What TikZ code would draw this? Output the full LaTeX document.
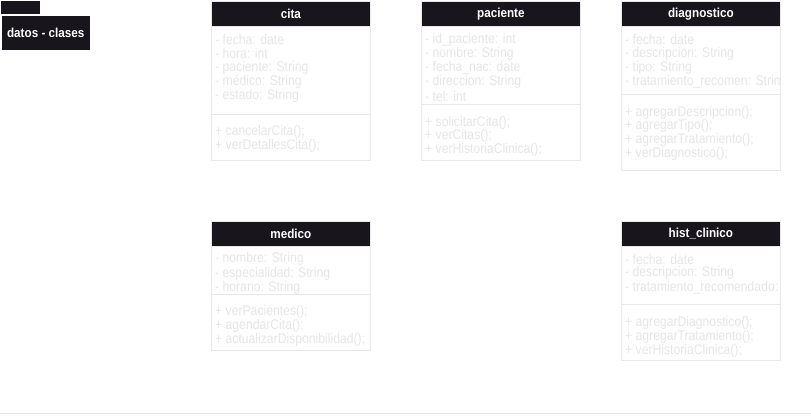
\documentclass[tikz,border=0pt]{standalone}
\usepackage{fontspec}
\setmainfont{Liberation Sans}
\newfontfamily\narrowfont[FakeStretch=0.9]{Liberation Sans}
\newfontfamily\membfont[FakeStretch=0.87]{Liberation Sans}
\definecolor{hdr}{HTML}{18151D}
\definecolor{txt}{HTML}{E6E6E6}
\definecolor{brd}{HTML}{E8E8E8}
\tikzset{
  hdrbox/.style={draw=brd, fill=hdr, line width=0.8pt, minimum width=159pt, minimum height=25pt, inner sep=0pt, anchor=north west, text=white, font=\narrowfont\fontsize{13}{15}\selectfont\bfseries},
  bodybox/.style={draw=brd, line width=0.8pt, minimum width=159pt, inner sep=0pt, anchor=north west},
  divline/.style={draw=brd, line width=0.8pt},
  member/.style={anchor=west, inner sep=0pt, text=txt, font=\membfont\fontsize{14}{16}\selectfont},
}
\begin{document}
\begin{tikzpicture}[x=1pt,y=-1pt]
\useasboundingbox (0,0) rectangle (811,419);
\fill[white] (0,0) rectangle (811,419);
% title tab
\node[fill=hdr, minimum width=39pt, minimum height=13pt, inner sep=0pt, anchor=north west] (tab) at (1,1) {};
\node[fill=hdr, draw=white, line width=0.5pt, minimum width=89pt, minimum height=35pt, inner sep=0pt, anchor=north west, text=white, font=\narrowfont\fontsize{13}{15}\selectfont\bfseries] (title) at (1,15) {datos - clases};
% cita
\node[bodybox, minimum height=159pt] (citabody) at (211,1) {};
\node[hdrbox] (cita) at (211,1) {cita};
\draw[divline] (211,114) -- (370,114);
\node[member] (c1) at (215,40) {- fecha: date};
\node[member] (c2) at (215,54) {- hora: int};
\node[member] (c3) at (215,68) {- paciente: String};
\node[member] (c4) at (215,82) {- médico: String};
\node[member] (c5) at (215,96) {- estado: String};
\node[member] (c6) at (215,132) {+ cancelarCita();};
\node[member] (c7) at (215,146) {+ verDetallesCita();};
% paciente
\node[bodybox, minimum height=159pt] (pacbody) at (421,1) {};
\node[hdrbox] (pac) at (421,1) {paciente};
\draw[divline] (421,104) -- (580,104);
\node[member] (p1) at (425,40) {- id\_paciente: int};
\node[member] (p2) at (425,54) {- nombre: String};
\node[member] (p3) at (425,68) {- fecha\_nac: date};
\node[member] (p4) at (425,82) {- direccion: String};
\node[member] (p5) at (425,96) {- tel: int};
\node[member] (p6) at (425,123) {+ solicitarCita();};
\node[member] (p7) at (425,136) {+ verCitas();};
\node[member] (p8) at (425,150) {+ verHistoriaClinica();};
% diagnostico
\node[bodybox, minimum height=169pt] (diabody) at (621,1) {};
\node[hdrbox] (dia) at (621,1) {diagnostico};
\draw[divline] (621,94) -- (780,94);
\node[member] (d1) at (625,40) {- fecha: date};
\node[member] (d2) at (625,54) {- descripcion: String};
\node[member] (d3) at (625,68) {- tipo: String};
\begin{scope}
\clip (621,27) rectangle (779.4,93);
\node[member] (d4) at (625,82) {- tratamiento\_recomen: Strin};
\end{scope}
\node[member] (d5) at (625,113) {+ agregarDescripcion();};
\node[member] (d6) at (625,126) {+ agregarTipo();};
\node[member] (d7) at (625,140) {+ agregarTratamiento();};
\node[member] (d8) at (625,154) {+ verDiagnostico();};
% medico
\node[bodybox, minimum height=129pt] (medbody) at (211,221) {};
\node[hdrbox] (med) at (211,221) {medico};
\draw[divline] (211,294) -- (370,294);
\node[member] (m1) at (215,259) {- nombre: String};
\node[member] (m2) at (215,274) {- especialidad: String};
\node[member] (m3) at (215,288) {- horario: String};
\node[member] (m4) at (215,312) {+ verPacientes();};
\node[member] (m5) at (215,326) {+ agendarCita();};
\node[member] (m6) at (215,340) {+ actualizarDisponibilidad();};
% hist_clinico
\node[bodybox, minimum height=139pt] (histbody) at (621,221) {};
\node[hdrbox] (hist) at (621,221) {hist\_clinico};
\draw[divline] (621,304) -- (780,304);
\node[member] (h1) at (625,259) {- fecha: date};
\node[member] (h2) at (625,273) {- descripcion: String};
\node[member] (h3) at (625,288) {- tratamiento\_recomendado:};
\node[member] (h4) at (625,323) {+ agregarDiagnostico();};
\node[member] (h5) at (625,337) {+ agregarTratamiento();};
\node[member] (h6) at (625,351) {+ verHistoriaClinica();};
% bottom line
\coordinate (bl) at (0,413.5);
\coordinate (br) at (811,413.5);
\draw[brd, line width=1pt] (bl) -- (br);
\end{tikzpicture}
\end{document}
